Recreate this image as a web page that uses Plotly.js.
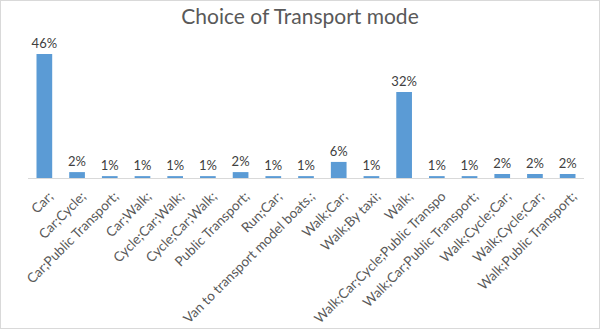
<!DOCTYPE html>
<html>
<head>
<meta charset="utf-8">
<script src="https://cdn.plot.ly/plotly-3.0.1.min.js"></script>
<style>
html,body{margin:0;padding:0;background:#fff;}
#wrap{position:relative;width:600px;height:329px;}
#chart{width:600px;height:329px;}
#frame{position:absolute;left:0;top:0;width:598px;height:327px;border:1px solid #d9d9d9;pointer-events:none;}
</style>
</head>
<body>
<div id="wrap"><div id="chart"></div><div id="frame"></div></div>
<script>
// Categories (as shown on the chart, including repeated labels)
var categories = [
  "Car;", "Car;Cycle;", "Car;Public Transport;", "Car;Walk;", "Cycle;Car;Walk;",
  "Cycle;Car;Walk;", "Public Transport;", "Run;Car;", "Van to transport model boats.;",
  "Walk;Car;", "Walk;By taxi;", "Walk;", "Walk;Car;Cycle;Public Transpo",
  "Walk;Car;Public Transport;", "Walk;Cycle;Car;", "Walk;Cycle;Car;", "Walk;Public Transport;"
];
// Share of respondents (fraction)
var shares = [0.463, 0.022, 0.007, 0.007, 0.007, 0.007, 0.022, 0.007, 0.007,
              0.060, 0.007, 0.321, 0.007, 0.007, 0.015, 0.015, 0.015];
var positions = categories.map(function(c, i){ return i; });

var FONT = 'Lato, Open Sans, Liberation Sans, sans-serif';

var trace = {
  type: 'bar',
  x: positions,
  y: shares,
  marker: {color: '#5B9BD5'},
  width: 0.48,
  texttemplate: '%{y:.0%}',
  textposition: 'outside',
  constraintext: 'none',
  textfont: {family: FONT, size: 13, color: '#404040'},
  cliponaxis: false,
  hoverinfo: 'none'
};

var layout = {
  width: 600, height: 329,
  margin: {l: 28, r: 16, t: 44, b: 151},
  paper_bgcolor: '#ffffff', plot_bgcolor: '#ffffff',
  showlegend: false,
  title: {
    text: 'Choice of Transport mode',
    x: 0.5, xanchor: 'center', y: 0.948, yanchor: 'middle', yref: 'container',
    font: {family: FONT, size: 21, color: '#595959'}
  },
  xaxis: {
    range: [-0.5, categories.length - 0.5],
    tickmode: 'array', tickvals: positions, ticktext: categories,
    tickangle: -45,
    ticks: '', showgrid: false, zeroline: false,
    showline: true, linecolor: '#d9d9d9', linewidth: 1,
    tickfont: {family: FONT, size: 13.5, color: '#595959'},
    ticklabelshift: 5,
    ticklabelstandoff: 4,
    fixedrange: true
  },
  yaxis: {
    range: [0, 0.5],
    visible: false, showgrid: false, zeroline: false, fixedrange: true
  }
};

Plotly.newPlot('chart', [trace], layout, {displayModeBar: false, staticPlot: true});
</script>
</body>
</html>
